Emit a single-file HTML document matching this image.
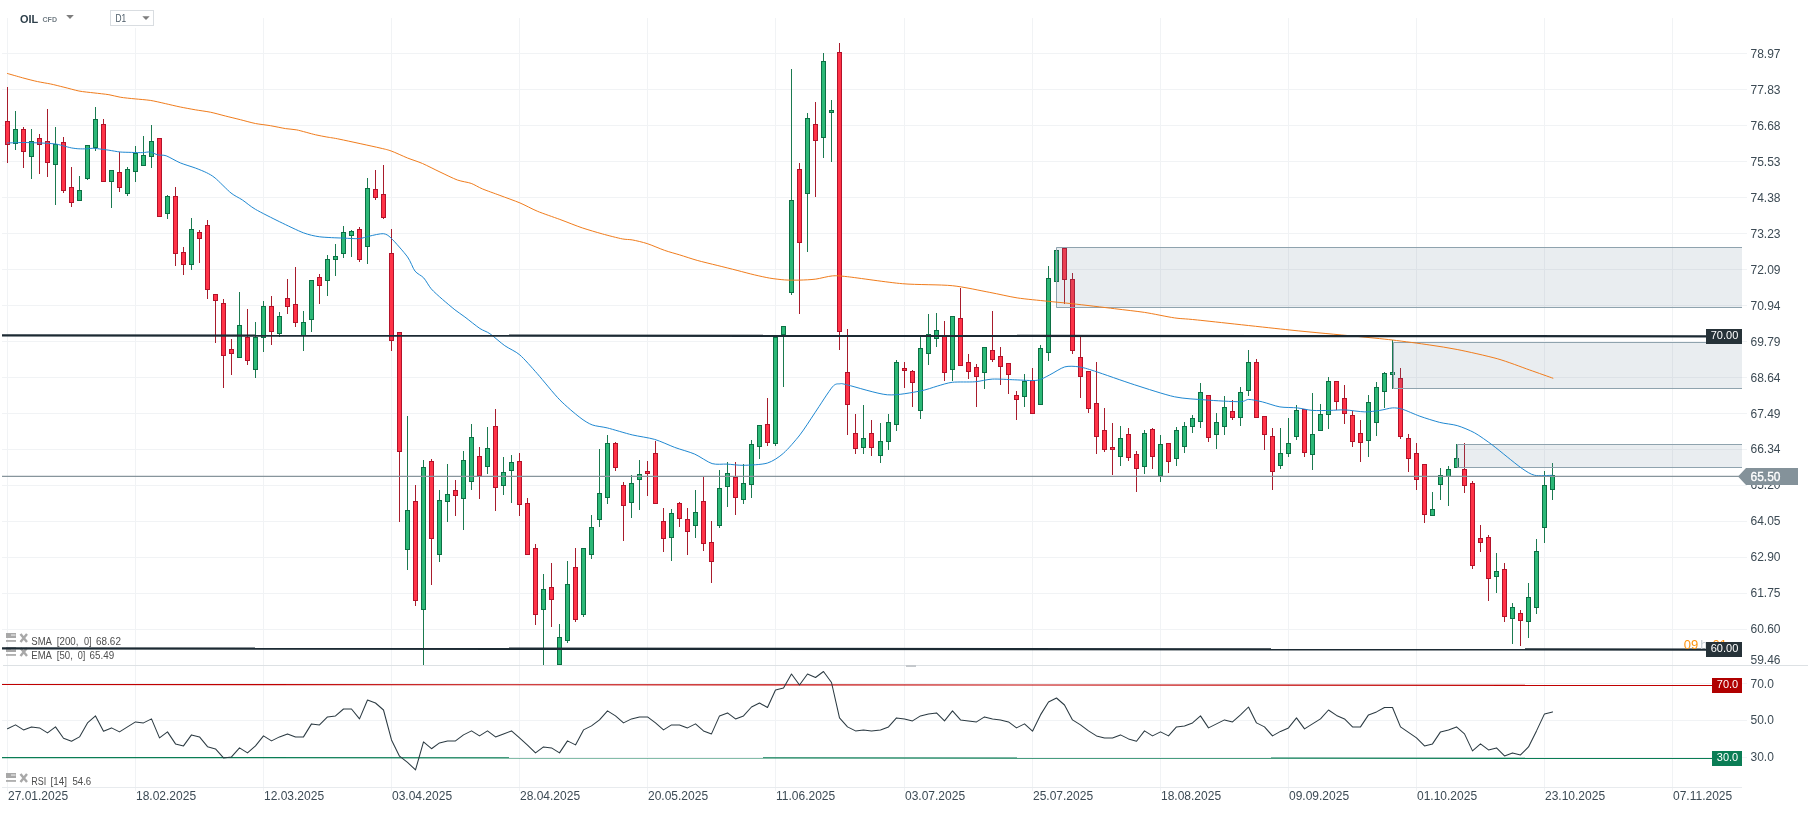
<!DOCTYPE html><html><head><meta charset="utf-8"><title>OIL CFD D1</title>
<style>html,body{margin:0;padding:0;background:#fff}body{width:1810px;height:813px;overflow:hidden;position:relative}svg{position:absolute;left:0;top:0;display:block;will-change:transform}text{font-family:"Liberation Sans",sans-serif}</style></head><body>
<svg width="1810" height="813" viewBox="0 0 1810 813">
<rect width="1810" height="813" fill="#fff"/>
<g fill="#f1f3f5" shape-rendering="crispEdges">
<rect x="7" y="18" width="1" height="773"/>
<rect x="135" y="18" width="1" height="773"/>
<rect x="263" y="18" width="1" height="773"/>
<rect x="391" y="18" width="1" height="773"/>
<rect x="519" y="18" width="1" height="773"/>
<rect x="647" y="18" width="1" height="773"/>
<rect x="775" y="18" width="1" height="773"/>
<rect x="904" y="18" width="1" height="773"/>
<rect x="1032" y="18" width="1" height="773"/>
<rect x="1160" y="18" width="1" height="773"/>
<rect x="1288" y="18" width="1" height="773"/>
<rect x="1416" y="18" width="1" height="773"/>
<rect x="1544" y="18" width="1" height="773"/>
<rect x="1672" y="18" width="1" height="773"/>
<rect x="2" y="53" width="1745" height="1"/>
<rect x="2" y="89" width="1745" height="1"/>
<rect x="2" y="125" width="1745" height="1"/>
<rect x="2" y="161" width="1745" height="1"/>
<rect x="2" y="197" width="1745" height="1"/>
<rect x="2" y="233" width="1745" height="1"/>
<rect x="2" y="269" width="1745" height="1"/>
<rect x="2" y="305" width="1745" height="1"/>
<rect x="2" y="341" width="1745" height="1"/>
<rect x="2" y="377" width="1745" height="1"/>
<rect x="2" y="413" width="1745" height="1"/>
<rect x="2" y="449" width="1745" height="1"/>
<rect x="2" y="485" width="1745" height="1"/>
<rect x="2" y="521" width="1745" height="1"/>
<rect x="2" y="557" width="1745" height="1"/>
<rect x="2" y="593" width="1745" height="1"/>
<rect x="2" y="629" width="1745" height="1"/>
<rect x="2" y="683" width="1745" height="1"/>
<rect x="2" y="720" width="1745" height="1"/>
<rect x="2" y="757" width="1745" height="1"/>
</g>
<rect x="3" y="665" width="1805" height="1" fill="#dde1e4"/>
<rect x="906" y="665" width="10" height="2" fill="#c4c8cc"/>
<rect x="2" y="787" width="1740" height="1" fill="#e8ebee"/>
<g shape-rendering="crispEdges">
<rect x="7" y="87" width="1" height="76" fill="#a81c2c"/>
<rect x="5" y="121" width="5" height="24" fill="#b3122a"/>
<rect x="6" y="122" width="3" height="22" fill="#ff3347"/>
<rect x="15" y="111" width="1" height="39" fill="#1b7a50"/>
<rect x="13" y="129" width="5" height="15" fill="#0c7044"/>
<rect x="14" y="130" width="3" height="13" fill="#2cb877"/>
<rect x="23" y="127" width="1" height="41" fill="#a81c2c"/>
<rect x="21" y="129" width="5" height="23" fill="#b3122a"/>
<rect x="22" y="130" width="3" height="21" fill="#ff3347"/>
<rect x="31" y="129" width="1" height="50" fill="#1b7a50"/>
<rect x="29" y="141" width="5" height="16" fill="#0c7044"/>
<rect x="30" y="142" width="3" height="14" fill="#2cb877"/>
<rect x="39" y="134" width="1" height="40" fill="#a81c2c"/>
<rect x="37" y="138" width="5" height="7" fill="#b3122a"/>
<rect x="38" y="139" width="3" height="5" fill="#ff3347"/>
<rect x="47" y="109" width="1" height="68" fill="#a81c2c"/>
<rect x="45" y="141" width="5" height="22" fill="#b3122a"/>
<rect x="46" y="142" width="3" height="20" fill="#ff3347"/>
<rect x="55" y="127" width="1" height="78" fill="#1b7a50"/>
<rect x="53" y="144" width="5" height="21" fill="#0c7044"/>
<rect x="54" y="145" width="3" height="19" fill="#2cb877"/>
<rect x="63" y="137" width="1" height="56" fill="#a81c2c"/>
<rect x="61" y="142" width="5" height="49" fill="#b3122a"/>
<rect x="62" y="143" width="3" height="47" fill="#ff3347"/>
<rect x="71" y="167" width="1" height="40" fill="#a81c2c"/>
<rect x="69" y="187" width="5" height="16" fill="#b3122a"/>
<rect x="70" y="188" width="3" height="14" fill="#ff3347"/>
<rect x="79" y="176" width="1" height="25" fill="#1b7a50"/>
<rect x="77" y="190" width="5" height="11" fill="#0c7044"/>
<rect x="78" y="191" width="3" height="9" fill="#2cb877"/>
<rect x="87" y="145" width="1" height="35" fill="#1b7a50"/>
<rect x="85" y="145" width="5" height="34" fill="#0c7044"/>
<rect x="86" y="146" width="3" height="32" fill="#2cb877"/>
<rect x="95" y="107" width="1" height="44" fill="#1b7a50"/>
<rect x="93" y="119" width="5" height="29" fill="#0c7044"/>
<rect x="94" y="120" width="3" height="27" fill="#2cb877"/>
<rect x="103" y="119" width="1" height="63" fill="#a81c2c"/>
<rect x="101" y="124" width="5" height="58" fill="#b3122a"/>
<rect x="102" y="125" width="3" height="56" fill="#ff3347"/>
<rect x="111" y="170" width="1" height="38" fill="#1b7a50"/>
<rect x="109" y="170" width="5" height="12" fill="#0c7044"/>
<rect x="110" y="171" width="3" height="10" fill="#2cb877"/>
<rect x="119" y="152" width="1" height="40" fill="#a81c2c"/>
<rect x="117" y="172" width="5" height="16" fill="#b3122a"/>
<rect x="118" y="173" width="3" height="14" fill="#ff3347"/>
<rect x="127" y="167" width="1" height="29" fill="#1b7a50"/>
<rect x="125" y="169" width="5" height="25" fill="#0c7044"/>
<rect x="126" y="170" width="3" height="23" fill="#2cb877"/>
<rect x="135" y="146" width="1" height="36" fill="#1b7a50"/>
<rect x="133" y="153" width="5" height="19" fill="#0c7044"/>
<rect x="134" y="154" width="3" height="17" fill="#2cb877"/>
<rect x="143" y="136" width="1" height="30" fill="#1b7a50"/>
<rect x="141" y="155" width="5" height="11" fill="#0c7044"/>
<rect x="142" y="156" width="3" height="9" fill="#2cb877"/>
<rect x="151" y="125" width="1" height="43" fill="#1b7a50"/>
<rect x="149" y="141" width="5" height="16" fill="#0c7044"/>
<rect x="150" y="142" width="3" height="14" fill="#2cb877"/>
<rect x="159" y="138" width="1" height="79" fill="#a81c2c"/>
<rect x="157" y="138" width="5" height="79" fill="#b3122a"/>
<rect x="158" y="139" width="3" height="77" fill="#ff3347"/>
<rect x="167" y="195" width="1" height="24" fill="#1b7a50"/>
<rect x="165" y="196" width="5" height="18" fill="#0c7044"/>
<rect x="166" y="197" width="3" height="16" fill="#2cb877"/>
<rect x="175" y="187" width="1" height="79" fill="#a81c2c"/>
<rect x="173" y="196" width="5" height="58" fill="#b3122a"/>
<rect x="174" y="197" width="3" height="56" fill="#ff3347"/>
<rect x="183" y="247" width="1" height="28" fill="#a81c2c"/>
<rect x="181" y="252" width="5" height="13" fill="#b3122a"/>
<rect x="182" y="253" width="3" height="11" fill="#ff3347"/>
<rect x="191" y="218" width="1" height="52" fill="#1b7a50"/>
<rect x="189" y="229" width="5" height="36" fill="#0c7044"/>
<rect x="190" y="230" width="3" height="34" fill="#2cb877"/>
<rect x="199" y="230" width="1" height="33" fill="#a81c2c"/>
<rect x="197" y="232" width="5" height="7" fill="#b3122a"/>
<rect x="198" y="233" width="3" height="5" fill="#ff3347"/>
<rect x="207" y="220" width="1" height="79" fill="#a81c2c"/>
<rect x="205" y="225" width="5" height="65" fill="#b3122a"/>
<rect x="206" y="226" width="3" height="63" fill="#ff3347"/>
<rect x="215" y="294" width="1" height="49" fill="#a81c2c"/>
<rect x="213" y="294" width="5" height="7" fill="#b3122a"/>
<rect x="214" y="295" width="3" height="5" fill="#ff3347"/>
<rect x="223" y="299" width="1" height="89" fill="#a81c2c"/>
<rect x="221" y="303" width="5" height="53" fill="#b3122a"/>
<rect x="222" y="304" width="3" height="51" fill="#ff3347"/>
<rect x="231" y="339" width="1" height="36" fill="#a81c2c"/>
<rect x="229" y="349" width="5" height="5" fill="#b3122a"/>
<rect x="230" y="350" width="3" height="3" fill="#ff3347"/>
<rect x="239" y="292" width="1" height="66" fill="#1b7a50"/>
<rect x="237" y="325" width="5" height="33" fill="#0c7044"/>
<rect x="238" y="326" width="3" height="31" fill="#2cb877"/>
<rect x="247" y="309" width="1" height="56" fill="#a81c2c"/>
<rect x="245" y="337" width="5" height="24" fill="#b3122a"/>
<rect x="246" y="338" width="3" height="22" fill="#ff3347"/>
<rect x="255" y="322" width="1" height="56" fill="#1b7a50"/>
<rect x="253" y="337" width="5" height="33" fill="#0c7044"/>
<rect x="254" y="338" width="3" height="31" fill="#2cb877"/>
<rect x="263" y="301" width="1" height="51" fill="#1b7a50"/>
<rect x="261" y="306" width="5" height="32" fill="#0c7044"/>
<rect x="262" y="307" width="3" height="30" fill="#2cb877"/>
<rect x="271" y="296" width="1" height="49" fill="#a81c2c"/>
<rect x="269" y="306" width="5" height="26" fill="#b3122a"/>
<rect x="270" y="307" width="3" height="24" fill="#ff3347"/>
<rect x="279" y="312" width="1" height="25" fill="#1b7a50"/>
<rect x="277" y="316" width="5" height="18" fill="#0c7044"/>
<rect x="278" y="317" width="3" height="16" fill="#2cb877"/>
<rect x="287" y="279" width="1" height="35" fill="#a81c2c"/>
<rect x="285" y="298" width="5" height="9" fill="#b3122a"/>
<rect x="286" y="299" width="3" height="7" fill="#ff3347"/>
<rect x="295" y="267" width="1" height="60" fill="#a81c2c"/>
<rect x="293" y="304" width="5" height="19" fill="#b3122a"/>
<rect x="294" y="305" width="3" height="17" fill="#ff3347"/>
<rect x="303" y="311" width="1" height="40" fill="#1b7a50"/>
<rect x="301" y="322" width="5" height="14" fill="#0c7044"/>
<rect x="302" y="323" width="3" height="12" fill="#2cb877"/>
<rect x="311" y="280" width="1" height="52" fill="#1b7a50"/>
<rect x="309" y="280" width="5" height="40" fill="#0c7044"/>
<rect x="310" y="281" width="3" height="38" fill="#2cb877"/>
<rect x="319" y="274" width="1" height="30" fill="#a81c2c"/>
<rect x="317" y="277" width="5" height="9" fill="#b3122a"/>
<rect x="318" y="278" width="3" height="7" fill="#ff3347"/>
<rect x="327" y="255" width="1" height="41" fill="#1b7a50"/>
<rect x="325" y="259" width="5" height="22" fill="#0c7044"/>
<rect x="326" y="260" width="3" height="20" fill="#2cb877"/>
<rect x="335" y="244" width="1" height="32" fill="#1b7a50"/>
<rect x="333" y="256" width="5" height="4" fill="#0c7044"/>
<rect x="334" y="257" width="3" height="2" fill="#2cb877"/>
<rect x="343" y="226" width="1" height="32" fill="#1b7a50"/>
<rect x="341" y="232" width="5" height="22" fill="#0c7044"/>
<rect x="342" y="233" width="3" height="20" fill="#2cb877"/>
<rect x="351" y="230" width="1" height="27" fill="#1b7a50"/>
<rect x="349" y="231" width="5" height="5" fill="#0c7044"/>
<rect x="350" y="232" width="3" height="3" fill="#2cb877"/>
<rect x="359" y="227" width="1" height="35" fill="#a81c2c"/>
<rect x="357" y="229" width="5" height="31" fill="#b3122a"/>
<rect x="358" y="230" width="3" height="29" fill="#ff3347"/>
<rect x="367" y="178" width="1" height="86" fill="#1b7a50"/>
<rect x="365" y="188" width="5" height="59" fill="#0c7044"/>
<rect x="366" y="189" width="3" height="57" fill="#2cb877"/>
<rect x="375" y="170" width="1" height="30" fill="#a81c2c"/>
<rect x="373" y="189" width="5" height="9" fill="#b3122a"/>
<rect x="374" y="190" width="3" height="7" fill="#ff3347"/>
<rect x="383" y="165" width="1" height="54" fill="#a81c2c"/>
<rect x="381" y="194" width="5" height="24" fill="#b3122a"/>
<rect x="382" y="195" width="3" height="22" fill="#ff3347"/>
<rect x="391" y="229" width="1" height="122" fill="#a81c2c"/>
<rect x="389" y="253" width="5" height="88" fill="#b3122a"/>
<rect x="390" y="254" width="3" height="86" fill="#ff3347"/>
<rect x="399" y="332" width="1" height="190" fill="#a81c2c"/>
<rect x="397" y="332" width="5" height="120" fill="#b3122a"/>
<rect x="398" y="333" width="3" height="118" fill="#ff3347"/>
<rect x="407" y="416" width="1" height="154" fill="#1b7a50"/>
<rect x="405" y="510" width="5" height="40" fill="#0c7044"/>
<rect x="406" y="511" width="3" height="38" fill="#2cb877"/>
<rect x="415" y="485" width="1" height="121" fill="#a81c2c"/>
<rect x="413" y="501" width="5" height="100" fill="#b3122a"/>
<rect x="414" y="502" width="3" height="98" fill="#ff3347"/>
<rect x="423" y="460" width="1" height="205" fill="#1b7a50"/>
<rect x="421" y="467" width="5" height="143" fill="#0c7044"/>
<rect x="422" y="468" width="3" height="141" fill="#2cb877"/>
<rect x="431" y="459" width="1" height="126" fill="#a81c2c"/>
<rect x="429" y="461" width="5" height="78" fill="#b3122a"/>
<rect x="430" y="462" width="3" height="76" fill="#ff3347"/>
<rect x="439" y="490" width="1" height="72" fill="#1b7a50"/>
<rect x="437" y="500" width="5" height="55" fill="#0c7044"/>
<rect x="438" y="501" width="3" height="53" fill="#2cb877"/>
<rect x="447" y="464" width="1" height="58" fill="#1b7a50"/>
<rect x="445" y="494" width="5" height="8" fill="#0c7044"/>
<rect x="446" y="495" width="3" height="6" fill="#2cb877"/>
<rect x="455" y="480" width="1" height="36" fill="#a81c2c"/>
<rect x="453" y="490" width="5" height="6" fill="#b3122a"/>
<rect x="454" y="491" width="3" height="4" fill="#ff3347"/>
<rect x="463" y="451" width="1" height="79" fill="#1b7a50"/>
<rect x="461" y="460" width="5" height="39" fill="#0c7044"/>
<rect x="462" y="461" width="3" height="37" fill="#2cb877"/>
<rect x="471" y="424" width="1" height="66" fill="#1b7a50"/>
<rect x="469" y="437" width="5" height="45" fill="#0c7044"/>
<rect x="470" y="438" width="3" height="43" fill="#2cb877"/>
<rect x="479" y="447" width="1" height="52" fill="#a81c2c"/>
<rect x="477" y="456" width="5" height="20" fill="#b3122a"/>
<rect x="478" y="457" width="3" height="18" fill="#ff3347"/>
<rect x="487" y="427" width="1" height="47" fill="#1b7a50"/>
<rect x="485" y="448" width="5" height="19" fill="#0c7044"/>
<rect x="486" y="449" width="3" height="17" fill="#2cb877"/>
<rect x="495" y="409" width="1" height="102" fill="#a81c2c"/>
<rect x="493" y="426" width="5" height="62" fill="#b3122a"/>
<rect x="494" y="427" width="3" height="60" fill="#ff3347"/>
<rect x="503" y="457" width="1" height="38" fill="#1b7a50"/>
<rect x="501" y="472" width="5" height="14" fill="#0c7044"/>
<rect x="502" y="473" width="3" height="12" fill="#2cb877"/>
<rect x="511" y="455" width="1" height="48" fill="#1b7a50"/>
<rect x="509" y="462" width="5" height="9" fill="#0c7044"/>
<rect x="510" y="463" width="3" height="7" fill="#2cb877"/>
<rect x="519" y="453" width="1" height="63" fill="#a81c2c"/>
<rect x="517" y="461" width="5" height="44" fill="#b3122a"/>
<rect x="518" y="462" width="3" height="42" fill="#ff3347"/>
<rect x="527" y="498" width="1" height="57" fill="#a81c2c"/>
<rect x="525" y="503" width="5" height="52" fill="#b3122a"/>
<rect x="526" y="504" width="3" height="50" fill="#ff3347"/>
<rect x="535" y="544" width="1" height="81" fill="#a81c2c"/>
<rect x="533" y="548" width="5" height="67" fill="#b3122a"/>
<rect x="534" y="549" width="3" height="65" fill="#ff3347"/>
<rect x="543" y="574" width="1" height="91" fill="#1b7a50"/>
<rect x="541" y="589" width="5" height="21" fill="#0c7044"/>
<rect x="542" y="590" width="3" height="19" fill="#2cb877"/>
<rect x="551" y="563" width="1" height="64" fill="#a81c2c"/>
<rect x="549" y="587" width="5" height="13" fill="#b3122a"/>
<rect x="550" y="588" width="3" height="11" fill="#ff3347"/>
<rect x="559" y="624" width="1" height="41" fill="#1b7a50"/>
<rect x="557" y="637" width="5" height="28" fill="#0c7044"/>
<rect x="558" y="638" width="3" height="26" fill="#2cb877"/>
<rect x="567" y="561" width="1" height="82" fill="#1b7a50"/>
<rect x="565" y="584" width="5" height="57" fill="#0c7044"/>
<rect x="566" y="585" width="3" height="55" fill="#2cb877"/>
<rect x="575" y="548" width="1" height="74" fill="#a81c2c"/>
<rect x="573" y="567" width="5" height="53" fill="#b3122a"/>
<rect x="574" y="568" width="3" height="51" fill="#ff3347"/>
<rect x="583" y="548" width="1" height="69" fill="#1b7a50"/>
<rect x="581" y="548" width="5" height="67" fill="#0c7044"/>
<rect x="582" y="549" width="3" height="65" fill="#2cb877"/>
<rect x="591" y="515" width="1" height="44" fill="#1b7a50"/>
<rect x="589" y="527" width="5" height="28" fill="#0c7044"/>
<rect x="590" y="528" width="3" height="26" fill="#2cb877"/>
<rect x="599" y="449" width="1" height="78" fill="#1b7a50"/>
<rect x="597" y="493" width="5" height="27" fill="#0c7044"/>
<rect x="598" y="494" width="3" height="25" fill="#2cb877"/>
<rect x="607" y="435" width="1" height="69" fill="#1b7a50"/>
<rect x="605" y="443" width="5" height="55" fill="#0c7044"/>
<rect x="606" y="444" width="3" height="53" fill="#2cb877"/>
<rect x="615" y="442" width="1" height="29" fill="#a81c2c"/>
<rect x="613" y="443" width="5" height="25" fill="#b3122a"/>
<rect x="614" y="444" width="3" height="23" fill="#ff3347"/>
<rect x="623" y="482" width="1" height="59" fill="#a81c2c"/>
<rect x="621" y="485" width="5" height="21" fill="#b3122a"/>
<rect x="622" y="486" width="3" height="19" fill="#ff3347"/>
<rect x="631" y="475" width="1" height="43" fill="#1b7a50"/>
<rect x="629" y="483" width="5" height="20" fill="#0c7044"/>
<rect x="630" y="484" width="3" height="18" fill="#2cb877"/>
<rect x="639" y="460" width="1" height="50" fill="#1b7a50"/>
<rect x="637" y="474" width="5" height="6" fill="#0c7044"/>
<rect x="638" y="475" width="3" height="4" fill="#2cb877"/>
<rect x="647" y="461" width="1" height="35" fill="#a81c2c"/>
<rect x="645" y="471" width="5" height="3" fill="#b3122a"/>
<rect x="646" y="472" width="3" height="1" fill="#ff3347"/>
<rect x="655" y="441" width="1" height="63" fill="#a81c2c"/>
<rect x="653" y="453" width="5" height="51" fill="#b3122a"/>
<rect x="654" y="454" width="3" height="49" fill="#ff3347"/>
<rect x="663" y="508" width="1" height="44" fill="#a81c2c"/>
<rect x="661" y="521" width="5" height="18" fill="#b3122a"/>
<rect x="662" y="522" width="3" height="16" fill="#ff3347"/>
<rect x="671" y="509" width="1" height="52" fill="#1b7a50"/>
<rect x="669" y="513" width="5" height="25" fill="#0c7044"/>
<rect x="670" y="514" width="3" height="23" fill="#2cb877"/>
<rect x="679" y="502" width="1" height="25" fill="#a81c2c"/>
<rect x="677" y="503" width="5" height="16" fill="#b3122a"/>
<rect x="678" y="504" width="3" height="14" fill="#ff3347"/>
<rect x="687" y="508" width="1" height="47" fill="#a81c2c"/>
<rect x="685" y="519" width="5" height="13" fill="#b3122a"/>
<rect x="686" y="520" width="3" height="11" fill="#ff3347"/>
<rect x="695" y="490" width="1" height="48" fill="#1b7a50"/>
<rect x="693" y="512" width="5" height="14" fill="#0c7044"/>
<rect x="694" y="513" width="3" height="12" fill="#2cb877"/>
<rect x="703" y="477" width="1" height="74" fill="#a81c2c"/>
<rect x="701" y="501" width="5" height="43" fill="#b3122a"/>
<rect x="702" y="502" width="3" height="41" fill="#ff3347"/>
<rect x="711" y="521" width="1" height="62" fill="#a81c2c"/>
<rect x="709" y="542" width="5" height="20" fill="#b3122a"/>
<rect x="710" y="543" width="3" height="18" fill="#ff3347"/>
<rect x="719" y="470" width="1" height="58" fill="#1b7a50"/>
<rect x="717" y="488" width="5" height="38" fill="#0c7044"/>
<rect x="718" y="489" width="3" height="36" fill="#2cb877"/>
<rect x="727" y="462" width="1" height="45" fill="#1b7a50"/>
<rect x="725" y="473" width="5" height="14" fill="#0c7044"/>
<rect x="726" y="474" width="3" height="12" fill="#2cb877"/>
<rect x="735" y="462" width="1" height="53" fill="#a81c2c"/>
<rect x="733" y="477" width="5" height="21" fill="#b3122a"/>
<rect x="734" y="478" width="3" height="19" fill="#ff3347"/>
<rect x="743" y="464" width="1" height="40" fill="#1b7a50"/>
<rect x="741" y="483" width="5" height="17" fill="#0c7044"/>
<rect x="742" y="484" width="3" height="15" fill="#2cb877"/>
<rect x="751" y="440" width="1" height="58" fill="#1b7a50"/>
<rect x="749" y="444" width="5" height="41" fill="#0c7044"/>
<rect x="750" y="445" width="3" height="39" fill="#2cb877"/>
<rect x="759" y="425" width="1" height="34" fill="#1b7a50"/>
<rect x="757" y="425" width="5" height="22" fill="#0c7044"/>
<rect x="758" y="426" width="3" height="20" fill="#2cb877"/>
<rect x="767" y="398" width="1" height="48" fill="#a81c2c"/>
<rect x="765" y="424" width="5" height="19" fill="#b3122a"/>
<rect x="766" y="425" width="3" height="17" fill="#ff3347"/>
<rect x="775" y="337" width="1" height="109" fill="#1b7a50"/>
<rect x="773" y="337" width="5" height="107" fill="#0c7044"/>
<rect x="774" y="338" width="3" height="105" fill="#2cb877"/>
<rect x="783" y="326" width="1" height="61" fill="#1b7a50"/>
<rect x="781" y="326" width="5" height="9" fill="#0c7044"/>
<rect x="782" y="327" width="3" height="7" fill="#2cb877"/>
<rect x="791" y="69" width="1" height="226" fill="#1b7a50"/>
<rect x="789" y="200" width="5" height="93" fill="#0c7044"/>
<rect x="790" y="201" width="3" height="91" fill="#2cb877"/>
<rect x="799" y="163" width="1" height="151" fill="#a81c2c"/>
<rect x="797" y="169" width="5" height="74" fill="#b3122a"/>
<rect x="798" y="170" width="3" height="72" fill="#ff3347"/>
<rect x="807" y="113" width="1" height="139" fill="#1b7a50"/>
<rect x="805" y="118" width="5" height="76" fill="#0c7044"/>
<rect x="806" y="119" width="3" height="74" fill="#2cb877"/>
<rect x="815" y="102" width="1" height="95" fill="#a81c2c"/>
<rect x="813" y="124" width="5" height="17" fill="#b3122a"/>
<rect x="814" y="125" width="3" height="15" fill="#ff3347"/>
<rect x="823" y="53" width="1" height="105" fill="#1b7a50"/>
<rect x="821" y="61" width="5" height="77" fill="#0c7044"/>
<rect x="822" y="62" width="3" height="75" fill="#2cb877"/>
<rect x="831" y="100" width="1" height="62" fill="#1b7a50"/>
<rect x="829" y="110" width="5" height="3" fill="#0c7044"/>
<rect x="830" y="111" width="3" height="1" fill="#2cb877"/>
<rect x="839" y="43" width="1" height="307" fill="#a81c2c"/>
<rect x="837" y="52" width="5" height="280" fill="#b3122a"/>
<rect x="838" y="53" width="3" height="278" fill="#ff3347"/>
<rect x="847" y="329" width="1" height="106" fill="#a81c2c"/>
<rect x="845" y="372" width="5" height="33" fill="#b3122a"/>
<rect x="846" y="373" width="3" height="31" fill="#ff3347"/>
<rect x="855" y="414" width="1" height="40" fill="#a81c2c"/>
<rect x="853" y="433" width="5" height="16" fill="#b3122a"/>
<rect x="854" y="434" width="3" height="14" fill="#ff3347"/>
<rect x="863" y="405" width="1" height="49" fill="#1b7a50"/>
<rect x="861" y="438" width="5" height="10" fill="#0c7044"/>
<rect x="862" y="439" width="3" height="8" fill="#2cb877"/>
<rect x="871" y="420" width="1" height="36" fill="#a81c2c"/>
<rect x="869" y="433" width="5" height="15" fill="#b3122a"/>
<rect x="870" y="434" width="3" height="13" fill="#ff3347"/>
<rect x="880" y="423" width="1" height="40" fill="#1b7a50"/>
<rect x="878" y="441" width="5" height="15" fill="#0c7044"/>
<rect x="879" y="442" width="3" height="13" fill="#2cb877"/>
<rect x="888" y="414" width="1" height="36" fill="#1b7a50"/>
<rect x="886" y="422" width="5" height="20" fill="#0c7044"/>
<rect x="887" y="423" width="3" height="18" fill="#2cb877"/>
<rect x="896" y="360" width="1" height="71" fill="#1b7a50"/>
<rect x="894" y="362" width="5" height="63" fill="#0c7044"/>
<rect x="895" y="363" width="3" height="61" fill="#2cb877"/>
<rect x="904" y="362" width="1" height="26" fill="#a81c2c"/>
<rect x="902" y="368" width="5" height="3" fill="#b3122a"/>
<rect x="903" y="369" width="3" height="1" fill="#ff3347"/>
<rect x="912" y="370" width="1" height="37" fill="#a81c2c"/>
<rect x="910" y="371" width="5" height="12" fill="#b3122a"/>
<rect x="911" y="372" width="3" height="10" fill="#ff3347"/>
<rect x="920" y="337" width="1" height="82" fill="#1b7a50"/>
<rect x="918" y="348" width="5" height="63" fill="#0c7044"/>
<rect x="919" y="349" width="3" height="61" fill="#2cb877"/>
<rect x="928" y="314" width="1" height="51" fill="#1b7a50"/>
<rect x="926" y="334" width="5" height="20" fill="#0c7044"/>
<rect x="927" y="335" width="3" height="18" fill="#2cb877"/>
<rect x="936" y="313" width="1" height="34" fill="#1b7a50"/>
<rect x="934" y="330" width="5" height="9" fill="#0c7044"/>
<rect x="935" y="331" width="3" height="7" fill="#2cb877"/>
<rect x="944" y="321" width="1" height="60" fill="#a81c2c"/>
<rect x="942" y="336" width="5" height="37" fill="#b3122a"/>
<rect x="943" y="337" width="3" height="35" fill="#ff3347"/>
<rect x="952" y="316" width="1" height="65" fill="#1b7a50"/>
<rect x="950" y="316" width="5" height="54" fill="#0c7044"/>
<rect x="951" y="317" width="3" height="52" fill="#2cb877"/>
<rect x="960" y="288" width="1" height="78" fill="#a81c2c"/>
<rect x="958" y="318" width="5" height="48" fill="#b3122a"/>
<rect x="959" y="319" width="3" height="46" fill="#ff3347"/>
<rect x="968" y="354" width="1" height="25" fill="#a81c2c"/>
<rect x="966" y="362" width="5" height="10" fill="#b3122a"/>
<rect x="967" y="363" width="3" height="8" fill="#ff3347"/>
<rect x="976" y="364" width="1" height="43" fill="#a81c2c"/>
<rect x="974" y="367" width="5" height="10" fill="#b3122a"/>
<rect x="975" y="368" width="3" height="8" fill="#ff3347"/>
<rect x="984" y="347" width="1" height="42" fill="#1b7a50"/>
<rect x="982" y="347" width="5" height="26" fill="#0c7044"/>
<rect x="983" y="348" width="3" height="24" fill="#2cb877"/>
<rect x="992" y="311" width="1" height="51" fill="#a81c2c"/>
<rect x="990" y="350" width="5" height="10" fill="#b3122a"/>
<rect x="991" y="351" width="3" height="8" fill="#ff3347"/>
<rect x="1000" y="347" width="1" height="38" fill="#a81c2c"/>
<rect x="998" y="356" width="5" height="11" fill="#b3122a"/>
<rect x="999" y="357" width="3" height="9" fill="#ff3347"/>
<rect x="1008" y="363" width="1" height="31" fill="#a81c2c"/>
<rect x="1006" y="363" width="5" height="12" fill="#b3122a"/>
<rect x="1007" y="364" width="3" height="10" fill="#ff3347"/>
<rect x="1016" y="391" width="1" height="29" fill="#a81c2c"/>
<rect x="1014" y="395" width="5" height="5" fill="#b3122a"/>
<rect x="1015" y="396" width="3" height="3" fill="#ff3347"/>
<rect x="1024" y="374" width="1" height="33" fill="#1b7a50"/>
<rect x="1022" y="381" width="5" height="16" fill="#0c7044"/>
<rect x="1023" y="382" width="3" height="14" fill="#2cb877"/>
<rect x="1032" y="368" width="1" height="46" fill="#a81c2c"/>
<rect x="1030" y="380" width="5" height="34" fill="#b3122a"/>
<rect x="1031" y="381" width="3" height="32" fill="#ff3347"/>
<rect x="1040" y="345" width="1" height="60" fill="#1b7a50"/>
<rect x="1038" y="348" width="5" height="57" fill="#0c7044"/>
<rect x="1039" y="349" width="3" height="55" fill="#2cb877"/>
<rect x="1048" y="266" width="1" height="95" fill="#1b7a50"/>
<rect x="1046" y="278" width="5" height="75" fill="#0c7044"/>
<rect x="1047" y="279" width="3" height="73" fill="#2cb877"/>
<rect x="1056" y="250" width="1" height="32" fill="#1b7a50"/>
<rect x="1054" y="250" width="5" height="32" fill="#0c7044"/>
<rect x="1055" y="251" width="3" height="30" fill="#2cb877"/>
<rect x="1064" y="248" width="1" height="56" fill="#a81c2c"/>
<rect x="1062" y="248" width="5" height="32" fill="#b3122a"/>
<rect x="1063" y="249" width="3" height="30" fill="#ff3347"/>
<rect x="1072" y="273" width="1" height="81" fill="#a81c2c"/>
<rect x="1070" y="279" width="5" height="72" fill="#b3122a"/>
<rect x="1071" y="280" width="3" height="70" fill="#ff3347"/>
<rect x="1080" y="337" width="1" height="61" fill="#a81c2c"/>
<rect x="1078" y="357" width="5" height="20" fill="#b3122a"/>
<rect x="1079" y="358" width="3" height="18" fill="#ff3347"/>
<rect x="1088" y="371" width="1" height="42" fill="#a81c2c"/>
<rect x="1086" y="371" width="5" height="38" fill="#b3122a"/>
<rect x="1087" y="372" width="3" height="36" fill="#ff3347"/>
<rect x="1096" y="362" width="1" height="92" fill="#a81c2c"/>
<rect x="1094" y="403" width="5" height="34" fill="#b3122a"/>
<rect x="1095" y="404" width="3" height="32" fill="#ff3347"/>
<rect x="1104" y="408" width="1" height="44" fill="#a81c2c"/>
<rect x="1102" y="430" width="5" height="20" fill="#b3122a"/>
<rect x="1103" y="431" width="3" height="18" fill="#ff3347"/>
<rect x="1112" y="423" width="1" height="52" fill="#a81c2c"/>
<rect x="1110" y="447" width="5" height="3" fill="#b3122a"/>
<rect x="1111" y="448" width="3" height="1" fill="#ff3347"/>
<rect x="1120" y="426" width="1" height="40" fill="#1b7a50"/>
<rect x="1118" y="438" width="5" height="19" fill="#0c7044"/>
<rect x="1119" y="439" width="3" height="17" fill="#2cb877"/>
<rect x="1128" y="428" width="1" height="33" fill="#a81c2c"/>
<rect x="1126" y="434" width="5" height="24" fill="#b3122a"/>
<rect x="1127" y="435" width="3" height="22" fill="#ff3347"/>
<rect x="1136" y="451" width="1" height="41" fill="#a81c2c"/>
<rect x="1134" y="454" width="5" height="15" fill="#b3122a"/>
<rect x="1135" y="455" width="3" height="13" fill="#ff3347"/>
<rect x="1144" y="430" width="1" height="44" fill="#1b7a50"/>
<rect x="1142" y="433" width="5" height="34" fill="#0c7044"/>
<rect x="1143" y="434" width="3" height="32" fill="#2cb877"/>
<rect x="1152" y="428" width="1" height="41" fill="#a81c2c"/>
<rect x="1150" y="429" width="5" height="28" fill="#b3122a"/>
<rect x="1151" y="430" width="3" height="26" fill="#ff3347"/>
<rect x="1160" y="435" width="1" height="47" fill="#1b7a50"/>
<rect x="1158" y="444" width="5" height="32" fill="#0c7044"/>
<rect x="1159" y="445" width="3" height="30" fill="#2cb877"/>
<rect x="1168" y="443" width="1" height="30" fill="#a81c2c"/>
<rect x="1166" y="443" width="5" height="19" fill="#b3122a"/>
<rect x="1167" y="444" width="3" height="17" fill="#ff3347"/>
<rect x="1176" y="427" width="1" height="39" fill="#1b7a50"/>
<rect x="1174" y="430" width="5" height="29" fill="#0c7044"/>
<rect x="1175" y="431" width="3" height="27" fill="#2cb877"/>
<rect x="1184" y="422" width="1" height="31" fill="#1b7a50"/>
<rect x="1182" y="426" width="5" height="21" fill="#0c7044"/>
<rect x="1183" y="427" width="3" height="19" fill="#2cb877"/>
<rect x="1192" y="415" width="1" height="18" fill="#1b7a50"/>
<rect x="1190" y="418" width="5" height="9" fill="#0c7044"/>
<rect x="1191" y="419" width="3" height="7" fill="#2cb877"/>
<rect x="1200" y="383" width="1" height="45" fill="#1b7a50"/>
<rect x="1198" y="392" width="5" height="30" fill="#0c7044"/>
<rect x="1199" y="393" width="3" height="28" fill="#2cb877"/>
<rect x="1208" y="395" width="1" height="47" fill="#a81c2c"/>
<rect x="1206" y="395" width="5" height="43" fill="#b3122a"/>
<rect x="1207" y="396" width="3" height="41" fill="#ff3347"/>
<rect x="1216" y="413" width="1" height="36" fill="#1b7a50"/>
<rect x="1214" y="422" width="5" height="13" fill="#0c7044"/>
<rect x="1215" y="423" width="3" height="11" fill="#2cb877"/>
<rect x="1224" y="396" width="1" height="39" fill="#1b7a50"/>
<rect x="1222" y="407" width="5" height="20" fill="#0c7044"/>
<rect x="1223" y="408" width="3" height="18" fill="#2cb877"/>
<rect x="1232" y="400" width="1" height="20" fill="#a81c2c"/>
<rect x="1230" y="411" width="5" height="7" fill="#b3122a"/>
<rect x="1231" y="412" width="3" height="5" fill="#ff3347"/>
<rect x="1240" y="387" width="1" height="39" fill="#1b7a50"/>
<rect x="1238" y="392" width="5" height="26" fill="#0c7044"/>
<rect x="1239" y="393" width="3" height="24" fill="#2cb877"/>
<rect x="1248" y="350" width="1" height="46" fill="#1b7a50"/>
<rect x="1246" y="362" width="5" height="29" fill="#0c7044"/>
<rect x="1247" y="363" width="3" height="27" fill="#2cb877"/>
<rect x="1256" y="359" width="1" height="59" fill="#a81c2c"/>
<rect x="1254" y="362" width="5" height="56" fill="#b3122a"/>
<rect x="1255" y="363" width="3" height="54" fill="#ff3347"/>
<rect x="1264" y="416" width="1" height="34" fill="#a81c2c"/>
<rect x="1262" y="416" width="5" height="19" fill="#b3122a"/>
<rect x="1263" y="417" width="3" height="17" fill="#ff3347"/>
<rect x="1272" y="428" width="1" height="62" fill="#a81c2c"/>
<rect x="1270" y="436" width="5" height="36" fill="#b3122a"/>
<rect x="1271" y="437" width="3" height="34" fill="#ff3347"/>
<rect x="1280" y="428" width="1" height="41" fill="#1b7a50"/>
<rect x="1278" y="453" width="5" height="13" fill="#0c7044"/>
<rect x="1279" y="454" width="3" height="11" fill="#2cb877"/>
<rect x="1288" y="418" width="1" height="39" fill="#1b7a50"/>
<rect x="1286" y="443" width="5" height="11" fill="#0c7044"/>
<rect x="1287" y="444" width="3" height="9" fill="#2cb877"/>
<rect x="1296" y="405" width="1" height="35" fill="#1b7a50"/>
<rect x="1294" y="410" width="5" height="27" fill="#0c7044"/>
<rect x="1295" y="411" width="3" height="25" fill="#2cb877"/>
<rect x="1304" y="409" width="1" height="48" fill="#a81c2c"/>
<rect x="1302" y="409" width="5" height="44" fill="#b3122a"/>
<rect x="1303" y="410" width="3" height="42" fill="#ff3347"/>
<rect x="1312" y="393" width="1" height="77" fill="#1b7a50"/>
<rect x="1310" y="434" width="5" height="21" fill="#0c7044"/>
<rect x="1311" y="435" width="3" height="19" fill="#2cb877"/>
<rect x="1320" y="404" width="1" height="27" fill="#1b7a50"/>
<rect x="1318" y="414" width="5" height="17" fill="#0c7044"/>
<rect x="1319" y="415" width="3" height="15" fill="#2cb877"/>
<rect x="1328" y="377" width="1" height="52" fill="#1b7a50"/>
<rect x="1326" y="381" width="5" height="34" fill="#0c7044"/>
<rect x="1327" y="382" width="3" height="32" fill="#2cb877"/>
<rect x="1336" y="381" width="1" height="29" fill="#a81c2c"/>
<rect x="1334" y="381" width="5" height="21" fill="#b3122a"/>
<rect x="1335" y="382" width="3" height="19" fill="#ff3347"/>
<rect x="1344" y="385" width="1" height="39" fill="#a81c2c"/>
<rect x="1342" y="398" width="5" height="16" fill="#b3122a"/>
<rect x="1343" y="399" width="3" height="14" fill="#ff3347"/>
<rect x="1352" y="411" width="1" height="36" fill="#a81c2c"/>
<rect x="1350" y="415" width="5" height="27" fill="#b3122a"/>
<rect x="1351" y="416" width="3" height="25" fill="#ff3347"/>
<rect x="1360" y="420" width="1" height="42" fill="#a81c2c"/>
<rect x="1358" y="433" width="5" height="10" fill="#b3122a"/>
<rect x="1359" y="434" width="3" height="8" fill="#ff3347"/>
<rect x="1368" y="395" width="1" height="62" fill="#1b7a50"/>
<rect x="1366" y="402" width="5" height="39" fill="#0c7044"/>
<rect x="1367" y="403" width="3" height="37" fill="#2cb877"/>
<rect x="1376" y="382" width="1" height="54" fill="#1b7a50"/>
<rect x="1374" y="387" width="5" height="36" fill="#0c7044"/>
<rect x="1375" y="388" width="3" height="34" fill="#2cb877"/>
<rect x="1384" y="372" width="1" height="36" fill="#1b7a50"/>
<rect x="1382" y="373" width="5" height="19" fill="#0c7044"/>
<rect x="1383" y="374" width="3" height="17" fill="#2cb877"/>
<rect x="1392" y="340" width="1" height="49" fill="#1b7a50"/>
<rect x="1390" y="372" width="5" height="3" fill="#0c7044"/>
<rect x="1391" y="373" width="3" height="1" fill="#2cb877"/>
<rect x="1400" y="368" width="1" height="71" fill="#a81c2c"/>
<rect x="1398" y="378" width="5" height="59" fill="#b3122a"/>
<rect x="1399" y="379" width="3" height="57" fill="#ff3347"/>
<rect x="1408" y="434" width="1" height="38" fill="#a81c2c"/>
<rect x="1406" y="438" width="5" height="21" fill="#b3122a"/>
<rect x="1407" y="439" width="3" height="19" fill="#ff3347"/>
<rect x="1416" y="443" width="1" height="47" fill="#a81c2c"/>
<rect x="1414" y="453" width="5" height="27" fill="#b3122a"/>
<rect x="1415" y="454" width="3" height="25" fill="#ff3347"/>
<rect x="1424" y="464" width="1" height="59" fill="#a81c2c"/>
<rect x="1422" y="464" width="5" height="51" fill="#b3122a"/>
<rect x="1423" y="465" width="3" height="49" fill="#ff3347"/>
<rect x="1432" y="492" width="1" height="24" fill="#1b7a50"/>
<rect x="1430" y="509" width="5" height="7" fill="#0c7044"/>
<rect x="1431" y="510" width="3" height="5" fill="#2cb877"/>
<rect x="1440" y="468" width="1" height="32" fill="#1b7a50"/>
<rect x="1438" y="475" width="5" height="10" fill="#0c7044"/>
<rect x="1439" y="476" width="3" height="8" fill="#2cb877"/>
<rect x="1448" y="466" width="1" height="40" fill="#1b7a50"/>
<rect x="1446" y="469" width="5" height="8" fill="#0c7044"/>
<rect x="1447" y="470" width="3" height="6" fill="#2cb877"/>
<rect x="1456" y="444" width="1" height="24" fill="#1b7a50"/>
<rect x="1454" y="458" width="5" height="10" fill="#0c7044"/>
<rect x="1455" y="459" width="3" height="8" fill="#2cb877"/>
<rect x="1464" y="443" width="1" height="50" fill="#a81c2c"/>
<rect x="1462" y="469" width="5" height="17" fill="#b3122a"/>
<rect x="1463" y="470" width="3" height="15" fill="#ff3347"/>
<rect x="1472" y="481" width="1" height="88" fill="#a81c2c"/>
<rect x="1470" y="483" width="5" height="83" fill="#b3122a"/>
<rect x="1471" y="484" width="3" height="81" fill="#ff3347"/>
<rect x="1480" y="525" width="1" height="27" fill="#a81c2c"/>
<rect x="1478" y="538" width="5" height="5" fill="#b3122a"/>
<rect x="1479" y="539" width="3" height="3" fill="#ff3347"/>
<rect x="1488" y="535" width="1" height="66" fill="#a81c2c"/>
<rect x="1486" y="537" width="5" height="42" fill="#b3122a"/>
<rect x="1487" y="538" width="3" height="40" fill="#ff3347"/>
<rect x="1496" y="553" width="1" height="40" fill="#1b7a50"/>
<rect x="1494" y="571" width="5" height="6" fill="#0c7044"/>
<rect x="1495" y="572" width="3" height="4" fill="#2cb877"/>
<rect x="1504" y="563" width="1" height="59" fill="#a81c2c"/>
<rect x="1502" y="569" width="5" height="48" fill="#b3122a"/>
<rect x="1503" y="570" width="3" height="46" fill="#ff3347"/>
<rect x="1512" y="603" width="1" height="41" fill="#1b7a50"/>
<rect x="1510" y="607" width="5" height="12" fill="#0c7044"/>
<rect x="1511" y="608" width="3" height="10" fill="#2cb877"/>
<rect x="1520" y="610" width="1" height="36" fill="#a81c2c"/>
<rect x="1518" y="613" width="5" height="8" fill="#b3122a"/>
<rect x="1519" y="614" width="3" height="6" fill="#ff3347"/>
<rect x="1528" y="583" width="1" height="55" fill="#1b7a50"/>
<rect x="1526" y="597" width="5" height="25" fill="#0c7044"/>
<rect x="1527" y="598" width="3" height="23" fill="#2cb877"/>
<rect x="1536" y="539" width="1" height="75" fill="#1b7a50"/>
<rect x="1534" y="551" width="5" height="57" fill="#0c7044"/>
<rect x="1535" y="552" width="3" height="55" fill="#2cb877"/>
<rect x="1544" y="471" width="1" height="72" fill="#1b7a50"/>
<rect x="1542" y="485" width="5" height="43" fill="#0c7044"/>
<rect x="1543" y="486" width="3" height="41" fill="#2cb877"/>
<rect x="1552" y="463" width="1" height="37" fill="#1b7a50"/>
<rect x="1550" y="475" width="5" height="15" fill="#0c7044"/>
<rect x="1551" y="476" width="3" height="13" fill="#2cb877"/>
</g>
<rect x="1056" y="247" width="686" height="61" fill="#6c879b" fill-opacity="0.15"/>
<path d="M1742 247.5H1056.5V307.5H1742" fill="none" stroke="#8fa3ae" stroke-width="1"/>
<rect x="1393" y="342" width="349" height="47" fill="#6c879b" fill-opacity="0.15"/>
<path d="M1742 342.5H1393.5V388.5H1742" fill="none" stroke="#8fa3ae" stroke-width="1"/>
<rect x="1457" y="444" width="285" height="24" fill="#6c879b" fill-opacity="0.15"/>
<path d="M1742 444.5H1457.5V467.5H1742" fill="none" stroke="#8fa3ae" stroke-width="1"/>
<path d="M7.5 73.5C9.5 74.1 18.5 76.7 22.5 77.8C26.5 78.9 33.8 80.8 37.6 81.6C41.4 82.4 47.2 83.3 50.7 84.0C54.2 84.7 60.1 86.3 63.9 87.2C67.7 88.1 74.9 90.2 78.9 91.0C82.9 91.8 89.9 92.4 93.9 92.9C97.9 93.4 105.4 94.1 108.9 94.7C112.4 95.3 116.7 96.6 120.2 97.2C123.7 97.8 131.2 98.5 135.2 98.9C139.2 99.3 146.3 99.8 150.3 100.4C154.3 101.0 161.3 102.7 165.3 103.6C169.3 104.5 176.3 106.2 180.3 107.0C184.3 107.8 191.3 109.1 195.3 109.8C199.3 110.5 206.4 111.4 210.4 112.2C214.4 113.0 221.4 115.0 225.4 116.0C229.4 117.0 236.4 118.7 240.4 119.7C244.4 120.7 251.4 122.7 255.4 123.5C259.4 124.3 266.5 125.0 270.5 125.7C274.5 126.4 282.0 128.0 285.5 128.6C289.0 129.2 292.8 129.1 296.8 129.9C300.8 130.7 311.6 133.9 315.6 134.8C319.6 135.7 323.5 136.4 326.8 137.0C330.1 137.6 332.9 137.8 340.0 139.3C347.1 140.8 373.2 146.4 380.0 148.0C386.8 149.6 387.5 149.7 391.2 151.0C394.9 152.3 403.3 156.3 407.5 158.0C411.7 159.7 418.2 161.6 422.5 163.5C426.8 165.4 435.3 169.8 440.0 172.0C444.7 174.2 453.2 178.5 457.4 180.0C461.6 181.5 467.9 182.2 471.2 183.4C474.5 184.6 478.6 187.3 482.4 188.9C486.2 190.5 494.9 193.5 499.9 195.4C504.9 197.3 514.9 200.8 519.9 202.9C524.9 205.0 532.0 209.0 537.3 211.2C542.6 213.4 553.8 217.2 559.8 219.4C565.8 221.6 576.6 226.0 582.3 227.9C588.0 229.8 597.0 232.4 602.3 233.9C607.6 235.4 618.3 238.1 622.3 238.9C626.3 239.7 628.9 239.3 632.2 239.9C635.5 240.5 642.9 242.2 647.2 243.6C651.5 245.0 660.4 248.9 664.7 250.4C669.0 251.9 675.4 253.6 679.7 254.9C684.0 256.2 692.2 259.0 697.2 260.4C702.2 261.8 711.9 264.1 717.2 265.4C722.5 266.7 732.1 269.1 737.1 270.4C742.1 271.7 750.3 273.9 754.6 274.9C758.9 275.9 765.6 277.4 769.6 278.1C773.6 278.8 780.6 279.6 784.6 279.9C788.6 280.2 795.4 280.2 799.6 280.1C803.8 280.0 811.4 279.7 815.8 279.1C820.2 278.5 828.2 276.2 832.4 275.9C836.6 275.6 838.1 275.7 847.4 276.7C856.7 277.7 888.3 282.5 902.3 283.7C916.3 284.9 940.6 284.5 952.3 285.7C964.0 286.9 981.1 290.8 989.8 292.4C998.5 294.0 1009.5 296.7 1017.2 297.9C1024.9 299.1 1039.9 300.4 1047.2 301.2C1054.5 302.0 1063.2 302.7 1072.2 303.7C1081.2 304.7 1104.9 307.5 1114.6 308.7C1124.3 309.9 1136.6 311.2 1144.6 312.4C1152.6 313.6 1167.5 316.9 1174.6 317.9C1181.7 318.9 1182.1 318.4 1197.5 320.0C1212.9 321.6 1268.9 327.8 1289.9 330.0C1310.9 332.2 1341.1 334.9 1354.8 336.2C1368.5 337.5 1382.3 338.8 1392.3 340.0C1402.3 341.2 1421.1 343.7 1429.8 345.0C1438.5 346.3 1448.2 347.7 1457.2 349.5C1466.2 351.3 1487.5 356.0 1497.2 358.7C1506.9 361.4 1522.3 367.4 1529.7 370.0C1537.1 372.6 1549.8 377.1 1552.9 378.2" fill="none" stroke="#f07c1c" stroke-width="1.0" stroke-linejoin="round" stroke-linecap="round"/>
<path d="M7.5 143.0C9.0 142.9 15.8 142.7 18.8 142.6C21.8 142.5 26.5 142.5 30.0 142.6C33.5 142.7 41.6 143.0 45.1 143.2C48.6 143.4 53.8 143.7 56.3 144.1C58.8 144.5 61.9 145.5 63.9 146.0C65.9 146.5 69.4 147.5 71.4 147.9C73.4 148.3 76.9 148.7 78.9 148.8C80.9 148.9 84.4 148.9 86.4 148.8C88.4 148.7 91.9 148.2 93.9 148.3C95.9 148.4 99.4 148.9 101.4 149.2C103.4 149.5 106.4 149.8 108.9 150.2C111.4 150.6 117.2 151.7 120.2 152.0C123.2 152.3 128.5 152.3 131.5 152.4C134.5 152.5 140.2 152.7 142.7 152.6C145.2 152.5 148.3 151.7 150.3 152.0C152.3 152.3 155.7 154.4 157.8 154.9C159.9 155.4 163.2 154.7 166.2 155.8C169.2 156.9 176.4 161.3 180.3 162.9C184.2 164.5 191.8 166.7 195.3 168.0C198.8 169.3 204.0 171.4 206.6 172.7C209.2 174.0 211.8 175.3 215.1 178.0C218.4 180.7 227.4 190.1 231.0 193.0C234.6 195.9 239.0 197.7 242.3 199.9C245.6 202.1 250.4 206.4 255.4 209.3C260.4 212.2 273.3 218.7 279.7 221.8C286.1 224.9 298.1 230.8 303.4 232.8C308.7 234.8 314.4 236.1 319.7 236.8C325.0 237.5 337.9 237.9 343.2 238.1C348.5 238.3 355.6 238.9 359.1 238.6C362.6 238.3 366.4 236.8 369.6 236.1C372.8 235.4 380.4 233.4 383.3 233.7C386.2 234.0 388.0 235.1 391.2 238.2C394.4 241.3 404.3 252.5 407.5 256.9C410.7 261.3 412.8 268.3 415.0 271.1C417.2 273.9 421.5 275.5 423.7 277.9C425.9 280.3 428.7 285.9 431.2 288.8C433.7 291.7 439.2 296.5 442.4 299.3C445.6 302.1 451.9 307.4 454.9 309.8C457.9 312.2 461.6 314.5 464.9 317.0C468.2 319.5 476.6 326.3 479.9 328.5C483.2 330.7 486.6 331.4 489.9 333.7C493.2 336.0 500.8 342.9 504.8 345.7C508.8 348.5 515.5 351.2 519.8 354.9C524.1 358.6 532.0 367.7 537.3 373.7C542.6 379.7 554.1 394.1 559.8 399.9C565.5 405.7 575.5 414.1 579.8 417.4C584.1 420.7 588.5 423.5 592.2 424.9C595.9 426.3 601.9 426.6 607.2 427.9C612.5 429.2 625.9 433.4 632.2 434.9C638.5 436.4 649.0 437.7 654.7 439.4C660.4 441.1 669.4 445.4 674.7 447.4C680.0 449.4 689.7 451.9 694.7 454.1C699.7 456.3 707.8 462.3 712.1 463.6C716.4 464.9 722.9 463.9 727.1 464.1C731.3 464.3 738.0 465.4 743.4 465.3C748.8 465.2 762.0 464.7 767.3 463.1C772.6 461.5 779.2 457.0 783.5 453.2C787.8 449.4 795.7 440.3 799.9 434.9C804.1 429.5 810.6 419.2 814.9 412.8C819.2 406.4 829.1 390.8 832.4 386.9C835.7 383.0 837.9 384.1 839.9 383.8C841.9 383.5 841.1 383.4 847.4 384.9C853.7 386.4 877.7 394.0 887.4 394.8C897.1 395.6 913.1 392.3 919.8 391.1C926.5 389.9 933.0 387.3 937.3 386.1C941.6 384.9 947.3 382.9 952.3 382.3C957.3 381.7 969.5 382.2 974.8 381.8C980.1 381.4 986.9 379.4 992.2 379.1C997.5 378.8 1008.7 379.6 1014.7 379.8C1020.7 380.0 1032.5 381.0 1037.2 380.3C1041.9 379.6 1046.0 376.7 1049.7 374.9C1053.4 373.1 1060.8 368.0 1064.7 366.9C1068.6 365.8 1075.2 366.3 1079.2 366.9C1083.2 367.5 1087.2 368.7 1094.6 371.1C1102.0 373.5 1123.9 381.4 1134.6 384.8C1145.3 388.2 1165.2 394.8 1174.6 396.8C1184.0 398.8 1196.3 399.2 1205.0 399.9C1213.7 400.6 1234.1 401.8 1239.9 401.7C1245.7 401.6 1245.7 399.4 1248.7 399.4C1251.7 399.4 1258.2 400.9 1262.4 401.9C1266.6 402.9 1275.2 406.1 1279.9 406.9C1284.6 407.7 1293.1 407.4 1297.4 407.9C1301.7 408.4 1308.1 410.1 1312.4 410.4C1316.7 410.7 1325.5 410.5 1329.8 410.4C1334.1 410.3 1340.1 409.7 1344.8 409.9C1349.5 410.1 1360.1 411.8 1364.8 411.9C1369.5 412.0 1376.1 410.9 1379.8 410.4C1383.5 409.9 1389.3 408.1 1392.3 407.9C1395.3 407.7 1398.6 408.1 1402.3 409.2C1406.0 410.3 1414.8 414.4 1419.8 416.2C1424.8 418.0 1434.7 421.1 1439.7 422.4C1444.7 423.7 1452.5 424.2 1457.2 425.6C1461.9 427.0 1470.0 430.3 1474.7 432.9C1479.4 435.5 1487.9 441.7 1492.2 444.9C1496.5 448.1 1503.2 453.7 1507.2 456.9C1511.2 460.1 1518.5 466.1 1522.2 468.6C1525.9 471.1 1530.6 474.4 1534.6 475.3C1538.6 476.2 1549.8 475.3 1552.1 475.3" fill="none" stroke="#1f88d1" stroke-width="1.0" stroke-linejoin="round" stroke-linecap="round"/>
<g fill="#a8a8a8"><rect x="6" y="633" width="10" height="5"/><rect x="11" y="634.5" width="4.6" height="1.1" fill="#ececec"/><rect x="6" y="640.1" width="10" height="1.7"/></g>
<path d="M20.5 634L27 642M27 634L20.5 642" stroke="#a8a8a8" stroke-width="2.4" fill="none"/>
<text y="644.5" font-size="10" fill="#4d4d4d"><tspan x="31.3" textLength="20.7" lengthAdjust="spacingAndGlyphs">SMA</tspan><tspan x="56.8" textLength="21.6" lengthAdjust="spacingAndGlyphs">[200,</tspan><tspan x="83.9" textLength="7.6" lengthAdjust="spacingAndGlyphs">0]</tspan><tspan x="96.1" textLength="24.8" lengthAdjust="spacingAndGlyphs">68.62</tspan></text>
<g fill="#a8a8a8"><rect x="6" y="647" width="10" height="5"/><rect x="11" y="648.5" width="4.6" height="1.1" fill="#ececec"/><rect x="6" y="654.1" width="10" height="1.7"/></g>
<path d="M20.5 648L27 656M27 648L20.5 656" stroke="#a8a8a8" stroke-width="2.4" fill="none"/>
<text y="658.5" font-size="10" fill="#4d4d4d"><tspan x="31.3" textLength="20.7" lengthAdjust="spacingAndGlyphs">EMA</tspan><tspan x="56.8" textLength="16" lengthAdjust="spacingAndGlyphs">[50,</tspan><tspan x="77.7" textLength="7.6" lengthAdjust="spacingAndGlyphs">0]</tspan><tspan x="89.6" textLength="24.6" lengthAdjust="spacingAndGlyphs">65.49</tspan></text>
<g fill="#a8a8a8"><rect x="6" y="773" width="10" height="5"/><rect x="11" y="774.5" width="4.6" height="1.1" fill="#ececec"/><rect x="6" y="780.1" width="10" height="1.7"/></g>
<path d="M20.5 774L27 782M27 774L20.5 782" stroke="#a8a8a8" stroke-width="2.4" fill="none"/>
<text y="784.5" font-size="10" fill="#4d4d4d"><tspan x="31.2" textLength="15" lengthAdjust="spacingAndGlyphs">RSI</tspan><tspan x="50.4" textLength="16.5" lengthAdjust="spacingAndGlyphs">[14]</tspan><tspan x="72.4" textLength="18.8" lengthAdjust="spacingAndGlyphs">54.6</tspan></text>
<line x1="2" y1="476.4" x2="1740" y2="476.4" stroke="#87959c" stroke-width="1.1"/>
<line x1="2" y1="335.4" x2="1708" y2="336.3" stroke="#1c2a33" stroke-width="2.3"/>
<line x1="2" y1="648.4" x2="1708" y2="649.6" stroke="#1c2a33" stroke-width="2.3"/>
<text y="649.3" font-size="13" fill="#ff9410"><tspan x="1683.7">09</tspan><tspan x="1700.3" fill="#c5ced3">h</tspan><tspan x="1712.6">01</tspan><tspan x="1729" fill="#c5ced3">m</tspan></text>
<rect x="1706" y="329" width="36" height="15" fill="#263238"/>
<text x="1724.5" y="339.2" font-size="11" fill="#fff" text-anchor="middle">70.00</text>
<rect x="1706" y="642" width="36" height="15" fill="#263238"/>
<text x="1724.5" y="652.4" font-size="11" fill="#fff" text-anchor="middle">60.00</text>
<line x1="2" y1="684.5" x2="1713" y2="685.4" stroke="#c00000" stroke-width="1.15"/>
<line x1="2" y1="757.6" x2="1713" y2="758.4" stroke="#0a7d55" stroke-width="1.2"/>
<polyline points="7.5,728.7 15.5,724.9 23.5,729.9 31.5,726.9 39.5,727.9 47.5,732.9 55.5,726.9 63.5,738.2 71.5,741.2 79.5,736.9 87.5,722.9 95.5,715.9 103.5,731.2 111.5,727.9 119.5,731.9 127.5,726.9 135.5,721.9 143.5,722.9 151.5,718.9 159.5,737.9 167.5,731.9 175.5,743.9 183.5,745.9 191.5,734.9 199.5,736.9 207.5,746.7 215.5,748.9 223.5,757.9 231.5,756.9 239.5,747.9 247.5,752.9 255.5,745.9 263.5,735.9 271.5,740.9 279.5,736.9 287.5,733.9 295.5,736.9 303.5,736.9 311.5,723.9 319.5,724.9 327.5,716.9 335.5,715.9 343.5,709.0 351.5,709.0 359.5,718.9 367.5,700.0 375.5,703.0 383.5,710.0 391.5,739.9 399.5,756.2 407.5,762.4 415.5,769.9 423.5,741.9 431.5,748.7 439.5,742.9 447.5,740.9 455.5,740.9 463.5,734.9 471.5,730.9 479.5,735.9 487.5,730.9 495.5,736.9 503.5,733.9 511.5,730.9 519.5,737.9 527.5,745.2 535.5,752.9 543.5,746.9 551.5,747.9 559.5,752.9 567.5,740.9 575.5,744.9 583.5,729.9 591.5,725.9 599.5,719.9 607.5,710.9 615.5,715.9 623.5,722.9 631.5,718.9 639.5,716.9 647.5,716.9 655.5,722.9 663.5,729.9 671.5,724.9 679.5,724.9 687.5,727.9 695.5,723.9 703.5,730.9 711.5,733.9 719.5,715.9 727.5,712.9 735.5,718.9 743.5,715.9 751.5,707.0 759.5,703.0 767.5,707.5 775.5,690.0 783.5,688.0 791.5,674.0 799.5,685.0 807.5,674.0 815.5,677.5 823.5,671.5 831.5,682.5 839.5,717.9 847.5,726.9 855.5,730.9 863.5,729.9 871.5,730.9 880.5,729.9 888.5,726.9 896.5,717.9 904.5,718.9 912.5,720.9 920.5,715.9 928.5,713.9 936.5,712.9 944.5,720.9 952.5,710.9 960.5,719.9 968.5,720.9 976.5,721.9 984.5,716.9 992.5,718.9 1000.5,719.9 1008.5,721.9 1016.5,727.9 1024.5,723.9 1032.5,731.2 1040.5,714.9 1048.5,702.0 1056.5,698.0 1064.5,705.0 1072.5,719.9 1080.5,724.9 1088.5,730.9 1096.5,735.9 1104.5,737.9 1112.5,737.9 1120.5,734.9 1128.5,738.9 1136.5,741.2 1144.5,730.9 1152.5,735.9 1160.5,731.9 1168.5,735.9 1176.5,726.9 1184.5,725.9 1192.5,722.9 1200.5,715.9 1208.5,727.9 1216.5,723.9 1224.5,719.9 1232.5,721.9 1240.5,714.9 1248.5,707.0 1256.5,722.9 1264.5,726.9 1272.5,735.9 1280.5,731.4 1288.5,727.9 1296.5,717.9 1304.5,728.9 1312.5,723.9 1320.5,718.9 1328.5,710.0 1336.5,715.4 1344.5,718.9 1352.5,726.9 1360.5,726.9 1368.5,714.9 1376.5,711.9 1384.5,707.5 1392.5,707.5 1400.5,726.9 1408.5,732.4 1416.5,737.9 1424.5,745.9 1432.5,743.9 1440.5,731.9 1448.5,729.9 1456.5,726.9 1464.5,733.9 1472.5,750.9 1480.5,743.9 1488.5,749.9 1496.5,747.9 1504.5,755.9 1512.5,752.9 1520.5,754.9 1528.5,746.9 1536.5,730.9 1544.5,713.9 1552.5,711.9" fill="none" stroke="#2b3a42" stroke-width="1.05" stroke-linejoin="round" stroke-linecap="round"/>
<rect x="1712" y="678" width="30" height="15" fill="#b00000"/>
<text x="1727.5" y="688.3" font-size="11" fill="#fff" text-anchor="middle">70.0</text>
<rect x="1712" y="751" width="30" height="15" fill="#0a7d55"/>
<text x="1727.5" y="761.3" font-size="11" fill="#fff" text-anchor="middle">30.0</text>
<g font-size="12" fill="#3c4a54">
<text x="1750.5" y="58">78.97</text>
<text x="1750.5" y="94">77.83</text>
<text x="1750.5" y="130">76.68</text>
<text x="1750.5" y="166">75.53</text>
<text x="1750.5" y="202">74.38</text>
<text x="1750.5" y="238">73.23</text>
<text x="1750.5" y="274">72.09</text>
<text x="1750.5" y="310">70.94</text>
<text x="1750.5" y="346">69.79</text>
<text x="1750.5" y="382">68.64</text>
<text x="1750.5" y="418">67.49</text>
<text x="1750.5" y="453">66.34</text>
<text x="1750.5" y="489">65.20</text>
<text x="1750.5" y="525">64.05</text>
<text x="1750.5" y="561">62.90</text>
<text x="1750.5" y="597">61.75</text>
<text x="1750.5" y="633">60.60</text>
<text x="1750.5" y="664">59.46</text>
<text x="1750.5" y="688">70.0</text>
<text x="1750.5" y="724">50.0</text>
<text x="1750.5" y="761">30.0</text>
<text x="8" y="800.4">27.01.2025</text>
<text x="136" y="800.4">18.02.2025</text>
<text x="264" y="800.4">12.03.2025</text>
<text x="392" y="800.4">03.04.2025</text>
<text x="520" y="800.4">28.04.2025</text>
<text x="648" y="800.4">20.05.2025</text>
<text x="776" y="800.4">11.06.2025</text>
<text x="905" y="800.4">03.07.2025</text>
<text x="1033" y="800.4">25.07.2025</text>
<text x="1161" y="800.4">18.08.2025</text>
<text x="1289" y="800.4">09.09.2025</text>
<text x="1417" y="800.4">01.10.2025</text>
<text x="1545" y="800.4">23.10.2025</text>
<text x="1673" y="800.4">07.11.2025</text>
</g>
<path d="M1738 476.4L1746 468H1798V485H1746Z" fill="#84929a"/>
<text x="1750.5" y="480.8" font-size="12" fill="#fff" stroke="#fff" stroke-width="0.3">65.50</text>
<rect x="14" y="8" width="66" height="20" fill="#fff"/>
<rect x="106" y="8" width="52" height="20" fill="#fff"/>
<text x="20" y="22.8" font-size="11.7" font-weight="bold" fill="#2e3f4a" textLength="18.2" lengthAdjust="spacingAndGlyphs">OIL</text>
<text x="42.5" y="22.1" font-size="7.8" font-weight="bold" fill="#727d85" textLength="14.5" lengthAdjust="spacingAndGlyphs">CFD</text>
<path d="M66.2 15H73.8L70 19Z" fill="#7d7d7d"/>
<rect x="110.5" y="10.5" width="43" height="15" fill="#fff" stroke="#d9dde1" stroke-width="1"/>
<text x="115.5" y="22.1" font-size="10.4" fill="#4a5a66" textLength="10.7" lengthAdjust="spacingAndGlyphs">D1</text>
<path d="M142.3 16.2H149.7L146 20Z" fill="#7d7d7d"/>
</svg></body></html>
